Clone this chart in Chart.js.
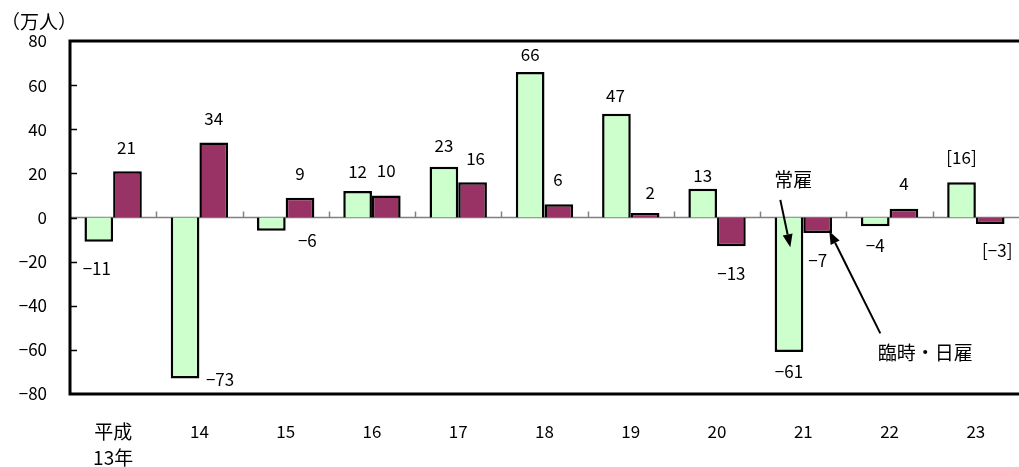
<!DOCTYPE html>
<html><head><meta charset="utf-8">
<script src="https://cdn.jsdelivr.net/npm/chart.js@4.4.1/dist/chart.umd.min.js"></script>
<style>html,body{margin:0;padding:0;background:#fff;}canvas{display:block;}</style>
</head><body>
<canvas id="c" width="1019" height="467"></canvas>
<script>
// ---- data ----
const categories = [["平成","13年"],"14","15","16","17","18","19","20","21","22","23"];
const regular = [-11,-73,-6,12,23,66,47,13,-61,-4,16];      // 常雇
const temporary = [21,34,9,10,16,6,2,-13,-7,4,-3];          // 臨時・日雇
const bracketed = [false,false,false,false,false,false,false,false,false,false,true];
const yTicks = [-80,-60,-40,-20,0,20,40,60,80];
const unitLabel = "（万人）";

// label offsets (px) relative to bar tip
const offRegular = [[-2,27],[35,1],[36,10],[0,-19],[0,-21],[0,-17],[-1,-18],[0,-13],[0,19],[0,19],[0,-25]];
const offTemporary = [[-1,-24],[0,-24],[0,-24],[0,-25],[3,-24],[-1,-25],[5,-21],[0,27],[0,28],[0,-25],[7,26]];

const FONT = '"Noto Sans CJK JP","Noto Sans",sans-serif';
const fmt = (v, br) => { const s = (v < 0 ? "\u2212" + Math.abs(v) : String(v)); return br ? "[" + s + "]" : s; };

function arrow(ctx, x1, y1, x2, y2) {
  const a = Math.atan2(y2 - y1, x2 - x1), L = 13, W = 5;
  ctx.beginPath(); ctx.moveTo(x1, y1);
  ctx.lineTo(x2 - L * Math.cos(a), y2 - L * Math.sin(a)); ctx.stroke();
  ctx.beginPath(); ctx.moveTo(x2, y2);
  ctx.lineTo(x2 - L * Math.cos(a) + W * Math.sin(a), y2 - L * Math.sin(a) - W * Math.cos(a));
  ctx.lineTo(x2 - L * Math.cos(a) - W * Math.sin(a), y2 - L * Math.sin(a) + W * Math.cos(a));
  ctx.closePath(); ctx.fill();
}

const decor = {
  id: 'decor',
  beforeDatasetsDraw(chart) {
    const {ctx, chartArea: a, scales: {x, y}} = chart;
    const W = chart.width;
    ctx.save();
    const y0 = y.getPixelForValue(0);
    ctx.strokeStyle = '#808080'; ctx.lineWidth = 1.5;
    ctx.beginPath(); ctx.moveTo(a.left, y0); ctx.lineTo(W, y0); ctx.stroke();
    const n = categories.length, cw = (a.right - a.left) / n;
    for (let i = 1; i < n; i++) {
      const px = Math.round(a.left + i * cw) + 0.5;
      ctx.beginPath(); ctx.moveTo(px, y0); ctx.lineTo(px, y0 - 6); ctx.stroke();
    }
    ctx.restore();
  },
  afterDatasetsDraw(chart) {
    const {ctx, chartArea: a, scales: {x, y}} = chart;
    const W = chart.width;
    ctx.save();
    ctx.strokeStyle = '#000'; ctx.lineWidth = 3;
    ctx.beginPath();
    ctx.moveTo(W, a.top); ctx.lineTo(a.left, a.top); ctx.lineTo(a.left, a.bottom); ctx.lineTo(W, a.bottom);
    ctx.stroke();
    ctx.lineWidth = 1.5;
    yTicks.forEach(v => {
      if (v === 80 || v === -80) return;
      const py = Math.round(y.getPixelForValue(v)) + 0.5;
      ctx.beginPath(); ctx.moveTo(a.left, py); ctx.lineTo(a.left + 7, py); ctx.stroke();
    });
    ctx.fillStyle = '#000'; ctx.font = '17px ' + FONT;
    ctx.textAlign = 'center'; ctx.textBaseline = 'middle';
    const m0 = chart.getDatasetMeta(0).data, m1 = chart.getDatasetMeta(1).data;
    regular.forEach((v, i) => {
      const b = m0[i];
      ctx.fillText(fmt(v, bracketed[i]), b.x + offRegular[i][0], b.y + offRegular[i][1]);
    });
    temporary.forEach((v, i) => {
      const b = m1[i];
      ctx.fillText(fmt(v, bracketed[i]), b.x + offTemporary[i][0], b.y + offTemporary[i][1]);
    });
    ctx.font = '19px ' + FONT;
    ctx.textAlign = 'left';
    ctx.fillText(unitLabel, 1, a.top - 19);
    const cx = x.getPixelForValue(8);
    ctx.lineWidth = 2; ctx.strokeStyle = '#000'; ctx.fillStyle = '#000';
    ctx.textAlign = 'center';
    ctx.fillText("常雇", cx - 10, y.getPixelForValue(17));
    arrow(ctx, cx - 23, y.getPixelForValue(8), cx - 13, y.getPixelForValue(-13.5));
    ctx.fillText("臨時・日雇", cx + 122, y.getPixelForValue(-61.5));
    arrow(ctx, cx + 77, y.getPixelForValue(-52.5), cx + 26, y.getPixelForValue(-6.2));
    ctx.restore();
  }
};

new Chart(document.getElementById('c'), {
  type: 'bar',
  data: {
    labels: categories,
    datasets: [
      {label: '常雇', data: regular, backgroundColor: '#CCFFCC', borderColor: '#000', borderWidth: 2.5,
       categoryPercentage: 0.665, barPercentage: 1.0},
      {label: '臨時・日雇', data: temporary, backgroundColor: '#993366', borderColor: '#000', borderWidth: 2.5,
       categoryPercentage: 0.665, barPercentage: 1.0}
    ]
  },
  options: {
    responsive: false, animation: false, devicePixelRatio: 1,
    layout: {padding: {top: 41, right: 0, left: 0, bottom: 0}},
    plugins: {legend: {display: false}, tooltip: {enabled: false}},
    scales: {
      x: {
        grid: {display: false, drawTicks: false}, border: {display: false},
        ticks: {color: '#000',
                font: c => ({family: FONT, size: c.index === 0 ? 19 : 17, lineHeight: c.index === 0 ? 26/19 : 26/17}),
                padding: 25, maxRotation: 0, autoSkip: false},
        afterFit(s) { s.height = 73; }
      },
      y: {
        min: -80, max: 80,
        grid: {display: false, drawTicks: false}, border: {display: false},
        afterBuildTicks(s) { s.ticks = yTicks.map(v => ({value: v})); },
        ticks: {color: '#000', font: {family: FONT, size: 17}, padding: 23,
                callback: v => (v < 0 ? "\u2212" + Math.abs(v) : String(v))},
        afterFit(s) { s.width = 70; }
      }
    }
  },
  plugins: [decor]
});
</script>
</body></html>
